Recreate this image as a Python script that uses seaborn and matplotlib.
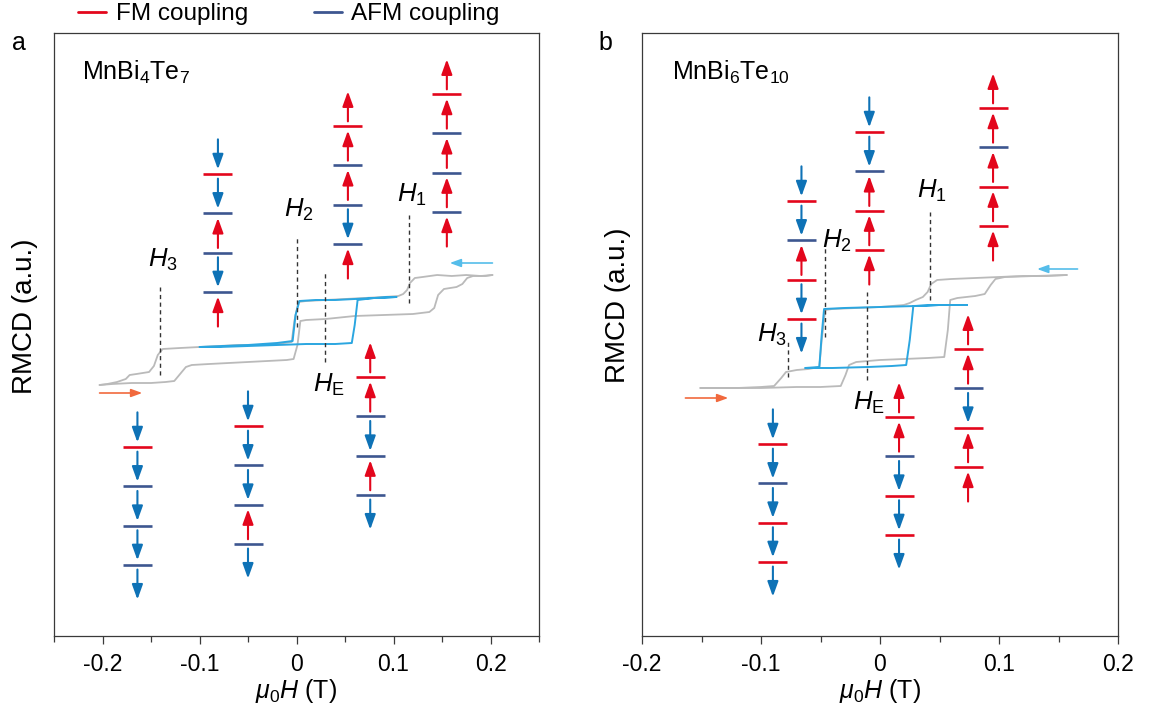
import matplotlib
matplotlib.use("Agg")
import matplotlib.pyplot as plt
from matplotlib.lines import Line2D
from matplotlib.ticker import MultipleLocator
import pandas as pd
import seaborn as sns

# ---------------- data ----------------
# Panel a : MnBi4Te7  (field in T, RMCD in a.u.)
a_desc_x = [0.202, 0.19, 0.175, 0.16, 0.145, 0.13, 0.122, 0.117, 0.114, 0.11, 0.105, 0.09, 0.07, 0.05,
            0.03, 0.01, 0.002, -0.002, -0.005, -0.02, -0.04, -0.06, -0.08, -0.10, -0.12, -0.138,
            -0.143, -0.147, -0.152, -0.165, -0.172, -0.176, -0.185, -0.195, -0.203]
a_desc_y = [361, 360, 361, 360, 361, 359, 358, 353, 346, 342, 340, 339, 338, 337,
            336, 335, 334, 316, 294, 292, 291, 291, 290, 289, 288, 287,
            281, 270, 264, 262, 261, 257, 254, 252, 251]
a_asc_x = [-0.203, -0.19, -0.17, -0.15, -0.135, -0.126, -0.12, -0.114, -0.108, -0.09, -0.07, -0.05,
           -0.03, -0.01, -0.003, 0.001, 0.004, 0.01, 0.03, 0.06, 0.09, 0.12, 0.137, 0.142, 0.146,
           0.152, 0.165, 0.171, 0.176, 0.182, 0.195, 0.202]
a_asc_y = [251, 252, 253, 253, 254, 255, 262, 269, 271, 272, 273, 274,
           275, 276, 277, 291, 315, 316, 317, 320, 321, 322, 324, 328, 341,
           347, 349, 352, 358, 360, 360, 361]
a_minor_x = [0.103, 0.08, 0.06, 0.04, 0.02, 0.003, -0.001, -0.004, -0.02, -0.05, -0.075, -0.10,
             -0.08, -0.05, -0.02, 0.01, 0.04, 0.057, 0.060, 0.063, 0.08, 0.103]
a_minor_y = [339, 338, 337, 336, 336, 335, 321, 295, 293, 291, 290, 289,
             289, 290, 291, 292, 292, 293, 311, 336, 338, 339]

# Panel b : MnBi6Te10
b_desc_x = [0.157, 0.14, 0.12, 0.10, 0.08, 0.06, 0.048, 0.043, 0.040, 0.036, 0.030, 0.025, 0.02,
            0.0, -0.02, -0.04, -0.046, -0.049, -0.051, -0.06, -0.07, -0.079, -0.083, -0.089,
            -0.10, -0.12, -0.14, -0.151]
b_desc_y = [361, 360, 360, 359, 358, 357, 356, 352, 344, 339, 336, 333, 331,
            329, 328, 327, 326, 296, 269, 267, 266, 264, 258, 250,
            249, 248, 248, 248]
b_asc_x = [-0.151, -0.13, -0.10, -0.07, -0.05, -0.033, -0.029, -0.026, -0.02, 0.0, 0.02, 0.04,
           0.054, 0.057, 0.059, 0.065, 0.08, 0.088, 0.093, 0.097, 0.105, 0.13, 0.157]
b_asc_y = [248, 248, 248, 249, 249, 250, 261, 271, 274, 276, 277, 278,
           279, 306, 336, 338, 340, 342, 351, 357, 359, 360, 361]
b_minor_x = [0.073, 0.05, 0.03, 0.0, -0.03, -0.047, -0.049, -0.051, -0.063, -0.04, -0.01, 0.01,
             0.022, 0.025, 0.028, 0.05, 0.073]
b_minor_y = [331, 331, 330, 329, 328, 327, 301, 269, 268, 268, 269, 270,
             271, 296, 330, 331, 331]

# critical fields (name, field, dashed-line bottom/top in a.u.)
a_crit_names = ["$H_1$", "$H_2$", r"$H_{\mathrm{E}}$", "$H_3$"]
a_crit_x = [0.116, 0.0, 0.029, -0.141]
a_crit_lo = [333, 309, 274, 261]
a_crit_hi = [421, 399, 364, 349]
a_lab_x = [0.104, -0.0134, 0.0165, -0.1536]
a_lab_y = [434, 419, 244, 369]

b_crit_names = ["$H_1$", "$H_2$", r"$H_{\mathrm{E}}$", "$H_3$"]
b_crit_x = [0.042, -0.046, -0.011, -0.077]
b_crit_lo = [336, 299, 256, 259]
b_crit_hi = [424, 389, 344, 294]
b_lab_x = [0.031, -0.0486, -0.0226, -0.103]
b_lab_y = [438, 388, 226, 294]

# spin configuration stacks (u = up, d = down ; F = FM coupling, A = AFM coupling)
a_stack_x = [-0.081, 0.053, 0.155, -0.164, -0.050, 0.076]
a_stack_y = [462, 510, 542, 189, 210, 259]
a_stack_spins = ["ddudu", "uuudu", "uuuuu", "ddddd", "dddud", "uudud"]
a_stack_bonds = ["FAAA", "FAAA", "FAAA", "FAAA", "FAAA", "FAAA"]

b_stack_x = [-0.066, -0.009, 0.095, -0.090, 0.016, 0.074]
b_stack_y = [435, 504, 528, 192, 219, 287]
b_stack_spins = ["ddudd", "dduuu", "uuuuu", "ddddd", "uuddd", "uuduu"]
b_stack_bonds = ["FAFF", "FAFF", "FAFF", "FAFF", "FAFF", "FAFF"]

# sweep-direction arrows (start field, end field, level)
a_sweep = [(0.202, 0.158, 373, "down"), (-0.203, -0.159, 243, "up")]
b_sweep = [(0.166, 0.132, 367, "down"), (-0.1635, -0.1275, 238, "up")]

tick_vals = [-0.2, -0.1, 0.0, 0.1, 0.2]
tick_labels = ["-0.2", "-0.1", "0", "0.1", "0.2"]

# ---------------- style ----------------
sns.set_theme(style="ticks")
plt.rcParams["font.family"] = ["Liberation Sans", "DejaVu Sans"]
plt.rcParams["mathtext.fontset"] = "custom"
plt.rcParams["mathtext.rm"] = "Liberation Sans"
plt.rcParams["mathtext.it"] = "Liberation Sans:italic"
plt.rcParams["mathtext.bf"] = "Liberation Sans:bold"
plt.rcParams["axes.unicode_minus"] = False
plt.rcParams["text.color"] = "black"
plt.rcParams["axes.labelcolor"] = "black"
plt.rcParams["xtick.labelcolor"] = "black"

GRAY = "#bababa"
LBLUE = "#2ba6e0"
RED = "#e3061c"
NAVY = "#3d5690"
ARROWBLUE = "#0e72b6"
ORANGE = "#f1693d"
SWEEPBLUE = "#55bdea"
SPINE = "#3a3a3a"

fig = plt.figure(figsize=(11.5, 7.12), dpi=100)
W, H = 1150, 712
ax_a = fig.add_axes([54 / W, 76 / H, 485 / W, 603 / H])
ax_b = fig.add_axes([642 / W, 76 / H, 476 / W, 603 / H])


def draw_panel(ax, xlim, desc, asc, minor, crit, labs, stacks, sweeps, name, name_x, ylab_x, ylab_y):
    ax.set_xlim(*xlim)
    ax.set_ylim(0, 603)
    df_d = pd.DataFrame({"H": desc[0], "R": desc[1]})
    df_u = pd.DataFrame({"H": asc[0], "R": asc[1]})
    df_m = pd.DataFrame({"H": minor[0], "R": minor[1]})
    sns.lineplot(data=df_d, x="H", y="R", sort=False, estimator=None, color=GRAY, lw=1.3, ax=ax)
    sns.lineplot(data=df_u, x="H", y="R", sort=False, estimator=None, color=GRAY, lw=1.3, ax=ax)
    sns.lineplot(data=df_m, x="H", y="R", sort=False, estimator=None, color=LBLUE, lw=1.4, ax=ax)

    names, cx, lo, hi = crit
    for n, x, l, h, tx, ty in zip(names, cx, lo, hi, labs[0], labs[1]):
        ax.vlines(x, l, h, colors="#333333", lw=1.0, linestyles=(0, (3, 2.5)))
        ax.text(tx, ty, n, fontsize=18.5, ha="left", va="baseline", color="black")

    # stacks
    xspan = xlim[1] - xlim[0]
    px_per_x = ax.get_position().width * W / xspan
    half_w = 14.5 / px_per_x
    sp = 39.3
    for x, y0, spins, bonds in zip(*stacks):
        for j, b in enumerate(bonds):
            ax.hlines(y0 - j * sp, x - half_w, x + half_w, colors=RED if b == "F" else NAVY, lw=1.9)
        for i, s in enumerate(spins):
            yc = y0 - (i - 0.5) * sp
            if s == "u":
                ys, ye, c = yc - 15, yc + 15, RED
            else:
                ys, ye, c = yc + 15, yc - 15, ARROWBLUE
            ax.annotate("", xy=(x, ye), xytext=(x, ys),
                        arrowprops=dict(arrowstyle="-|>,head_length=0.75,head_width=0.27",
                                        color=c, lw=1.5, shrinkA=0, shrinkB=0, mutation_scale=12))
    for x0, x1, yv, kind in sweeps:
        ax.annotate("", xy=(x1, yv), xytext=(x0, yv),
                    arrowprops=dict(arrowstyle="-|>,head_length=0.55,head_width=0.2",
                                    color=SWEEPBLUE if kind == "down" else ORANGE, lw=1.2,
                                    shrinkA=0, shrinkB=0, mutation_scale=12))

    ax.text(name_x, 0.922, name, transform=ax.transAxes, fontsize=18, ha="left", va="baseline",
            color="black")

    ax.set_xticks(tick_vals, tick_labels)
    ax.xaxis.set_minor_locator(MultipleLocator(0.05))
    ax.set_yticks([])
    ax.tick_params(axis="x", which="major", direction="out", length=5.5, width=0.9,
                   color=SPINE, labelsize=16.5, labelcolor="black", pad=6.5)
    ax.tick_params(axis="x", which="minor", direction="out", length=4.5, width=0.9, color=SPINE)
    for s in ax.spines.values():
        s.set_visible(True)
        s.set_color(SPINE)
        s.set_linewidth(0.9)
    ax.set_xlabel(r"$\mu_0H$ (T)", fontsize=18, labelpad=1, color="black")
    ax.set_ylabel("RMCD (a.u.)", fontsize=20, color="black")
    ax.yaxis.set_label_coords(ylab_x, ylab_y)


draw_panel(ax_a, (-0.25, 0.25), (a_desc_x, a_desc_y), (a_asc_x, a_asc_y), (a_minor_x, a_minor_y),
           (a_crit_names, a_crit_x, a_crit_lo, a_crit_hi), (a_lab_x, a_lab_y),
           (a_stack_x, a_stack_y, a_stack_spins, a_stack_bonds), a_sweep,
           "MnBi$_4$Te$_7$", 0.0577, -0.033, 0.531)
draw_panel(ax_b, (-0.2, 0.2), (b_desc_x, b_desc_y), (b_asc_x, b_asc_y), (b_minor_x, b_minor_y),
           (b_crit_names, b_crit_x, b_crit_lo, b_crit_hi), (b_lab_x, b_lab_y),
           (b_stack_x, b_stack_y, b_stack_spins, b_stack_bonds), b_sweep,
           "MnBi$_6$Te$_{10}$", 0.063, -0.023, 0.549)

fig.text(12 / W, 1 - 50 / H, "a", fontsize=18, va="baseline", color="black")
fig.text(598 / W, 1 - 50 / H, "b", fontsize=18, va="baseline", color="black")

handles = [Line2D([], [], color=RED, lw=2), Line2D([], [], color=NAVY, lw=2)]
leg = fig.legend(handles, ["FM coupling", "AFM coupling"], loc="center left",
                 bbox_to_anchor=(78 / W, 1 - 14 / H), ncol=2, frameon=False, fontsize=17.5,
                 handlelength=1.15, handletextpad=0.4, columnspacing=2.7, borderpad=0, borderaxespad=0)
for t in leg.get_texts():
    t.set_color("black")

fig.savefig("out.png", dpi=100)
